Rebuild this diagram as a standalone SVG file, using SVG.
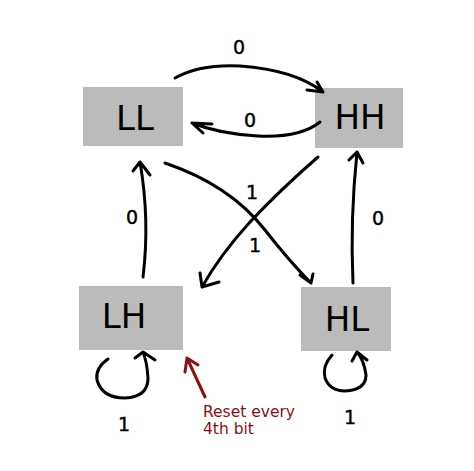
<svg xmlns="http://www.w3.org/2000/svg" width="474" height="471" viewBox="0 0 474 471">
<style>
.box{fill:#bbbbbb}
.lbl{font-family:"DejaVu Sans",sans-serif;font-size:34px;fill:#000;text-anchor:middle}
.c{fill:none;stroke:#000;stroke-width:3;stroke-linecap:round;stroke-linejoin:round}
.hw{font-family:"DejaVu Sans",sans-serif;font-size:19px;fill:#000;stroke:#000;stroke-width:0.4;text-anchor:middle}
.red{fill:none;stroke:#8b1010;stroke-width:3;stroke-linecap:round;stroke-linejoin:round}
.note{font-family:"DejaVu Sans",sans-serif;font-size:15.5px;fill:#8b1010}
</style>
<rect width="474" height="471" fill="#fff"/>
<g id="LL"><rect class="box" x="83" y="87" width="100" height="59"/><text class="lbl" x="135" y="130">LL</text></g>
<g id="HH"><rect class="box" x="315" y="88" width="88" height="60"/><text class="lbl" x="360" y="129">HH</text></g>
<g id="LH"><rect class="box" x="79" y="286" width="104" height="64"/><text class="lbl" x="124" y="328">LH</text></g>
<g id="HL"><rect class="box" x="301" y="287" width="90" height="64"/><text class="lbl" x="347" y="331">HL</text></g>
<g id="connectors">
<path class="c" d="M175 78 Q200 64 240 66 Q295 70 323 92 M317 82 L323 92 L307 90"/>
<path class="c" d="M320 122 Q300 138 258 136 Q220 134 192 123 M212 124 L192 123 L203 133"/>
<path class="c" d="M143 277 Q150 220 140 162 M133 171 L140 162 L150 175"/>
<path class="c" d="M353 283 Q350 220 357 152 M349 160 L357 152 L363 163"/>
<path class="c" d="M165 163 Q230 185 265 230 Q290 262 311 283 M300 275 L311 283 L313 274"/>
<path class="c" d="M318 157 Q280 190 250 222 Q220 255 202 287 M200 273 L202 287 L219 282"/>
<path class="c" d="M108 359 Q95 368 97 380 Q102 398 125 398 Q148 397 148 378 Q147 362 143 352 M135 358 L143 352 L155 360"/>
<path class="c" d="M332 355 Q322 366 325 378 Q330 391 345 391 Q366 390 366 375 Q364 360 357 352 M352 361 L357 352 L367 360"/>
<text class="hw" x="239" y="54">0</text>
<text class="hw" x="250" y="127" font-size="12">0</text>
<text class="hw" x="132" y="224">0</text>
<text class="hw" x="378" y="225">0</text>
<text class="hw" x="252" y="199">1</text>
<text class="hw" x="255" y="252">1</text>
<text class="hw" x="124" y="431">1</text>
<text class="hw" x="350" y="424">1</text>
</g>
<g id="note">
<path class="red" d="M205 397 L187 358 M185 372 L187 358 L198 365"/>
<text class="note" x="203" y="417">Reset every</text>
<text class="note" x="203" y="434">4th bit</text>
</g>
</svg>
